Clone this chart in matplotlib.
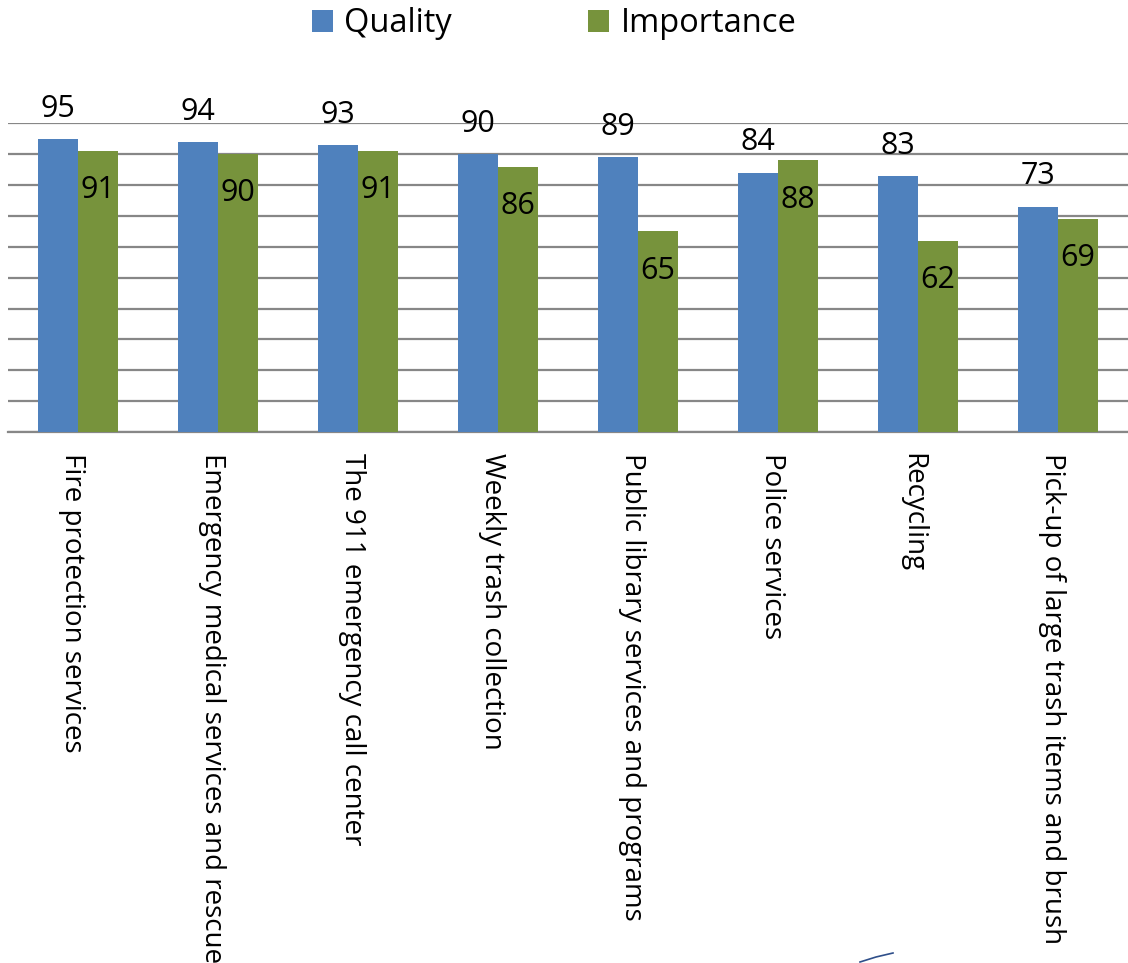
import matplotlib
matplotlib.use("Agg")
import matplotlib.pyplot as plt
import matplotlib.transforms as mtransforms
import numpy as np
from matplotlib.lines import Line2D

categories = [
    "Fire protection services",
    "Emergency medical services and rescue",
    "The 911 emergency call center",
    "Weekly trash collection",
    "Public library services and programs",
    "Police services",
    "Recycling",
    "Pick-up of large trash items and brush",
]
quality = [95, 94, 93, 90, 89, 84, 83, 73]
importance = [91, 90, 91, 86, 65, 88, 62, 69]

BLUE = "#4F81BD"
GREEN = "#77933C"
GRID = "#878787"

plt.rcParams["font.family"] = ["Open Sans", "DejaVu Sans"]

W, H = 1128, 963
fig = plt.figure(figsize=(W / 100, H / 100), dpi=100)
ax = fig.add_axes([8 / W, 1 - 432 / H, 1 - 8 / W, (432 - 123.3) / H])

x = np.arange(len(categories))
w = 40 / 140
qbars = ax.bar(x - w / 2, quality, w, color=BLUE, label="Quality", zorder=3)
ibars = ax.bar(x + w / 2, importance, w, color=GREEN, label="Importance", zorder=3)

ax.set_xlim(-0.5, len(categories) - 0.5)
ax.set_ylim(0, 100)
ax.set_yticks(range(0, 101, 10))
ax.yaxis.grid(True, color=GRID, linewidth=1.6, zorder=0)
ax.tick_params(axis="y", left=False, labelleft=False)
for side in ["left", "right", "top"]:
    ax.spines[side].set_visible(False)
ax.spines["bottom"].set_color(GRID)
ax.spines["bottom"].set_linewidth(1.6)

ax.set_xticks(x)
ax.set_xticklabels(categories, rotation=270, fontsize=20, va="top", ha="center")
ax.tick_params(axis="x", length=0, pad=15)
# nudge the rotated labels a little to the left, like the original
shift = mtransforms.ScaledTranslation(-6 / 100, 0, fig.dpi_scale_trans)
for lbl in ax.get_xticklabels():
    lbl.set_transform(lbl.get_transform() + shift)

# quality labels above bars, importance labels inside the bar tops
for bar, v in zip(qbars, quality):
    ax.annotate(str(v), (bar.get_x() + bar.get_width() / 2, v), xytext=(0, 16),
                textcoords="offset points", ha="center", va="baseline",
                fontsize=22, annotation_clip=False)
for bar, v in zip(ibars, importance):
    ax.annotate(str(v), (bar.get_x() + bar.get_width() / 2, v), xytext=(0, -34),
                textcoords="offset points", ha="center", va="baseline",
                fontsize=22, annotation_clip=False)

fig.legend(loc="center", bbox_to_anchor=(554 / W, 1 - 24 / H), ncol=2, frameon=False,
           fontsize=23.5, handlelength=0.64, handleheight=0.64, handletextpad=0.34,
           columnspacing=4.2, borderaxespad=0)

# small stray stroke at the bottom of the slide
fig.add_artist(Line2D([860 / W, 876 / W, 893 / W], [1 - 962 / H, 1 - 957 / H, 1 - 953 / H],
                      color="#2F4F8A", linewidth=1.2))

fig.savefig("out.png", dpi=100)
